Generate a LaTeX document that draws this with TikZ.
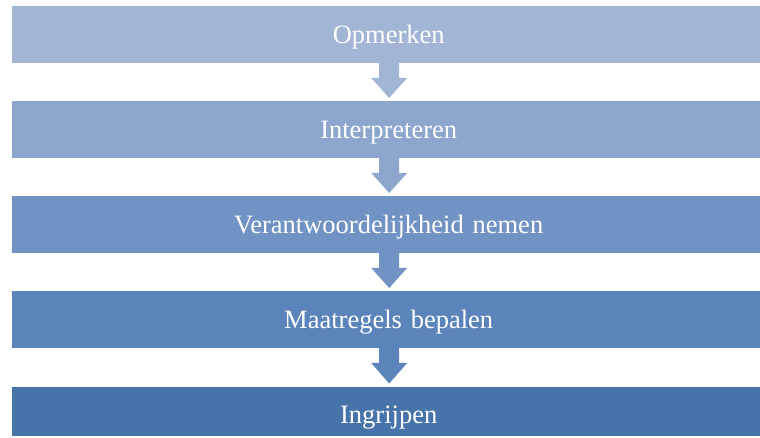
\documentclass[tikz,border=0pt]{standalone}
\usepackage{fontspec}
\setmainfont{Liberation Serif}
\usetikzlibrary{calc}
\definecolor{cA}{HTML}{A2B5D5}
\definecolor{cB}{HTML}{8CA6CD}
\definecolor{cC}{HTML}{7193C3}
\definecolor{cD}{HTML}{5B84BB}
\definecolor{cE}{HTML}{4674AA}
\begin{document}
\begin{tikzpicture}[x=1pt,y=-1pt,
  stepbox/.style={fill=#1,draw=none,anchor=north west,minimum width=748pt,
    minimum height=56.5pt,inner sep=0pt,text=white,
    font=\fontsize{26.5}{30}\selectfont,text height=20pt,text depth=2.5pt,
    text width=748pt,align=center},
  lastbox/.style={minimum height=49.5pt,text height=26pt,text depth=1.5pt}]
\useasboundingbox (0,0) rectangle (760,438);
\node[stepbox=cA] (b1) at (12,6) {\hspace*{5pt}Opmerken};
\node[stepbox=cB] (b2) at (12,101) {\hspace*{5pt}Interpreteren};
\node[stepbox=cC] (b3) at (12,196) {\hspace*{5pt}Verantwoordelijkheid nemen};
\node[stepbox=cD] (b4) at (12,291) {\hspace*{5pt}Maatregels bepalen};
\node[stepbox=cE,lastbox] (b5) at (12,386.5) {\hspace*{5pt}Ingrijpen};
% arrows
\foreach \a/\b/\c in {b1/b2/cA,b2/b3/cB,b3/b4/cC,b4/b5/cD}{
  \fill[\c] ($(\a.south)+(-7,-0.5)$) -- ++(20,0) -- ++(0,15.5) -- ++(8,0)
    -- ($(\b.north)+(3,-3)$) -- ($(\a.south)+(-15,15)$) -- ++(8,0) -- cycle;
}
\end{tikzpicture}
\end{document}
